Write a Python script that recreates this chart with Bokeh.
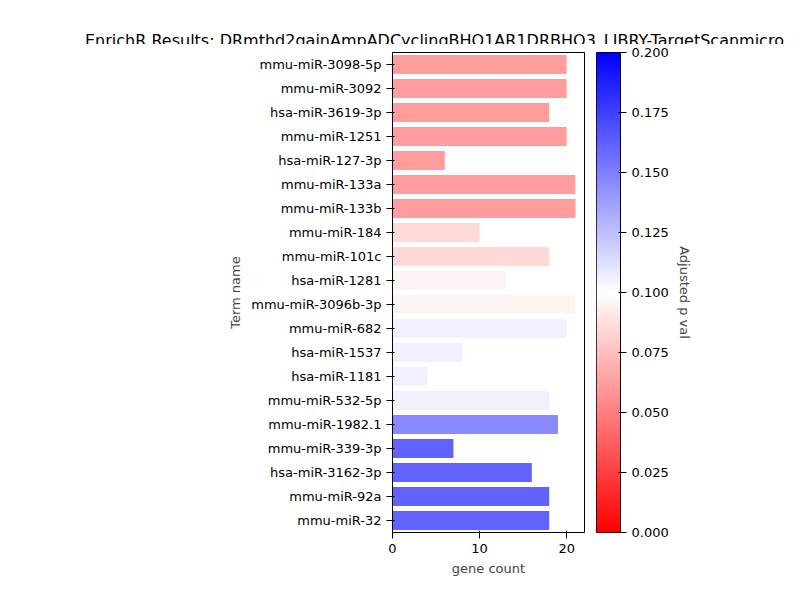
import numpy as np
from bokeh.plotting import figure
from bokeh.models import ColumnDataSource, Div, Range1d, LinearColorMapper, CustomJSTickFormatter
from bokeh.layouts import column, row
from bokeh.transform import linear_cmap
from bokeh.embed import file_html
from bokeh.resources import INLINE

terms = ["mmu-miR-3098-5p", "mmu-miR-3092", "hsa-miR-3619-3p", "mmu-miR-1251",
         "hsa-miR-127-3p", "mmu-miR-133a", "mmu-miR-133b", "mmu-miR-184",
         "mmu-miR-101c", "hsa-miR-1281", "mmu-miR-3096b-3p", "mmu-miR-682",
         "hsa-miR-1537", "hsa-miR-1181", "mmu-miR-532-5p", "mmu-miR-1982.1",
         "mmu-miR-339-3p", "hsa-miR-3162-3p", "mmu-miR-92a", "mmu-miR-32"]
counts = [20, 20, 18, 20, 6, 21, 21, 10, 18, 13, 21, 20, 8, 4, 18, 19, 7, 16, 18, 18]
pvals = [0.061, 0.061, 0.061, 0.061, 0.061, 0.061, 0.061, 0.085, 0.085, 0.096,
         0.096, 0.106, 0.106, 0.106, 0.106, 0.146, 0.161, 0.161, 0.161, 0.161]

# red -> white -> blue
palette = []
for i in range(256):
    t = i / 255
    if t < 0.5:
        v = int(round(255 * t / 0.5))
        palette.append("#%02x%02x%02x" % (255, v, v))
    else:
        v = int(round(255 * (1 - t) / 0.5))
        palette.append("#%02x%02x%02x" % (v, v, 255))

FONT = "DejaVu Sans"
src = ColumnDataSource(data=dict(term=terms, count=counts, pval=pvals))

p = figure(y_range=list(reversed(terms)), x_range=Range1d(0, 22.05),
           frame_width=192, frame_height=480, min_border_left=392,
           min_border_right=6, min_border_top=8, min_border_bottom=60,
           output_backend="svg", toolbar_location=None)
p.hbar(y="term", right="count", height=0.8, source=src, line_color=None,
       fill_color=linear_cmap("pval", palette, 0, 0.2))
p.xaxis.axis_label = "gene count"
p.yaxis.axis_label = "Term name"
p.xaxis.ticker = [0, 10, 20]
p.grid.visible = False
p.outline_line_color = "black"
for ax in (p.xaxis[0], p.yaxis[0]):
    ax.axis_label_text_font = FONT
    ax.axis_label_text_font_style = "normal"
    ax.axis_label_text_font_size = "13px"
    ax.major_label_text_font = FONT
    ax.major_label_text_font_size = "13px"
    ax.major_label_text_color = "black"
    ax.minor_tick_line_color = None
    ax.axis_line_color = "black"

cb = figure(x_range=Range1d(0, 1), y_range=Range1d(0, 0.2), frame_width=24,
            frame_height=480, min_border_left=6, min_border_right=120,
            min_border_top=8, min_border_bottom=60, output_backend="svg",
            toolbar_location=None, y_axis_location="right")
grad = np.linspace(0, 0.2, 256).reshape(256, 1)
cb.image(image=[grad], x=0, y=0, dw=1, dh=0.2,
         color_mapper=LinearColorMapper(palette=palette, low=0, high=0.2))
cb.xaxis.visible = False
cb.grid.visible = False
cb.outline_line_color = "black"
cb.yaxis.ticker = [0, 0.025, 0.05, 0.075, 0.1, 0.125, 0.15, 0.175, 0.2]
cb.yaxis.formatter = CustomJSTickFormatter(code="return tick.toFixed(3);")
cb.yaxis.axis_label = "Adjusted p val"
cb.yaxis.axis_label_text_font = FONT
cb.yaxis.axis_label_text_font_style = "normal"
cb.yaxis.axis_label_text_font_size = "13px"
cb.yaxis.major_label_text_font = FONT
cb.yaxis.major_label_text_font_size = "13px"
cb.yaxis.major_label_text_color = "black"
cb.yaxis.minor_tick_line_color = None

title = Div(text="EnrichR Results: DRmthd2gainAmpADCyclingBHQ1AR1DRBHQ3_LIBRY-TargetScanmicroRNA_2017",
            width=784, height=44, margin=(0, 0, 0, 0),
            styles={"font-family": FONT, "font-size": "16px", "white-space": "nowrap",
                    "overflow": "hidden", "padding-top": "30px", "padding-left": "85px",
                    "box-sizing": "border-box"})

layout = column(title, row(p, cb, spacing=0), spacing=0)
open("out.html", "w").write(file_html(layout, INLINE))
